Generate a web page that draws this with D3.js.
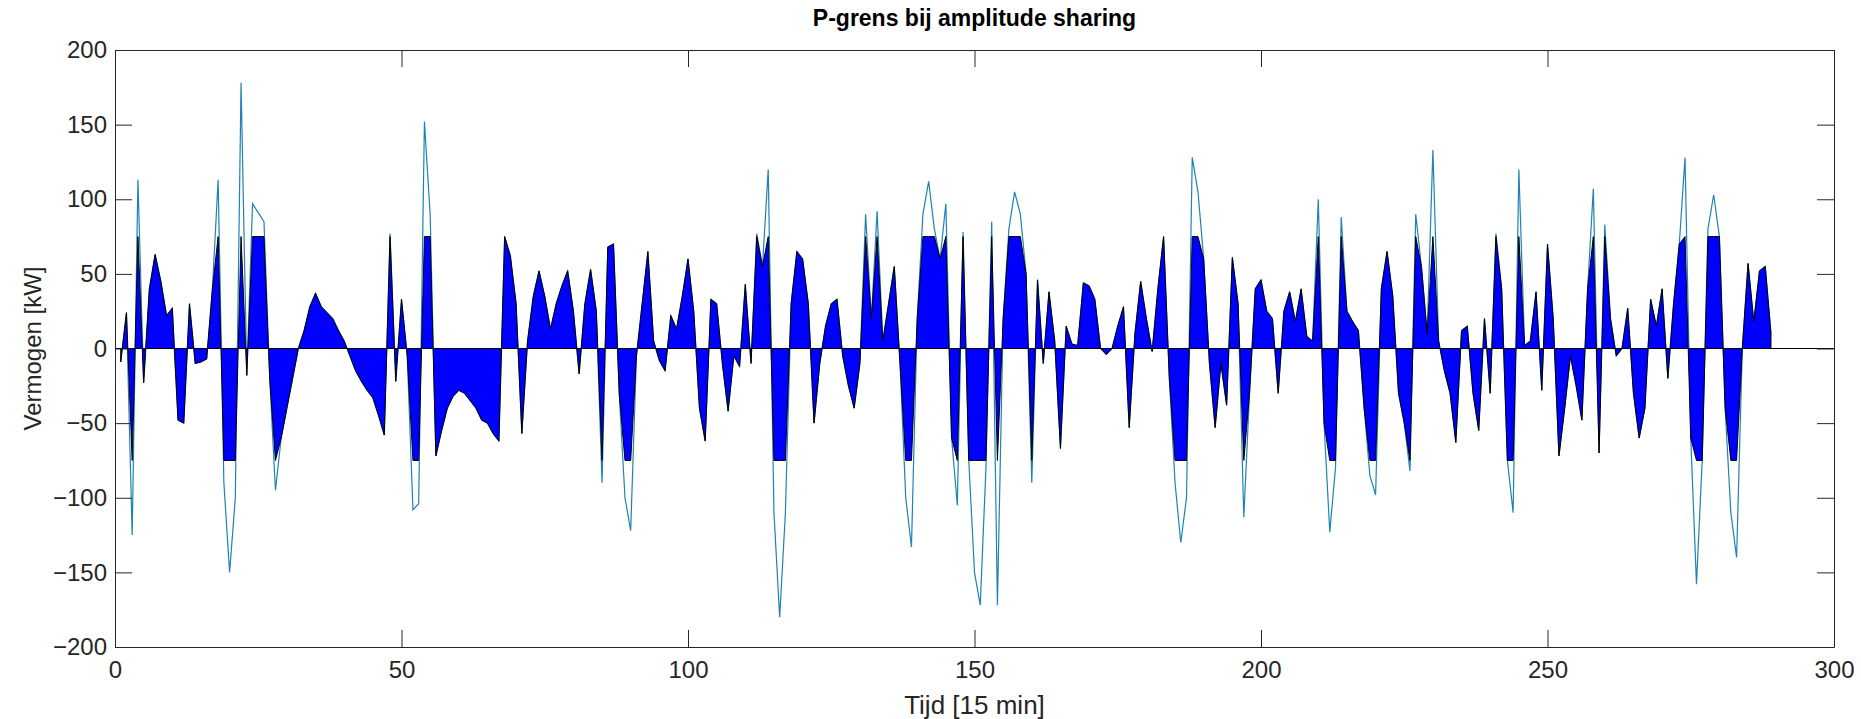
<!DOCTYPE html>
<html>
<head>
<meta charset="utf-8">
<script src="https://cdn.jsdelivr.net/npm/d3@7"></script>
<style>
    body { margin: 0; background: #fff; }
    svg { display: block; font-family: "Liberation Sans", Arial, Helvetica, sans-serif; }
</style>
</head>
<body>
<div id="chart-container"></div>
<script>
let width = 1861;
let height = 719;
let margin = ({top: 50, right: 27, bottom: 72, left: 115});

// vermogen per kwartier (kW), tijdstap 1..289
const power = [
    -9, 24, -125, 113, -23, 40, 63, 45, 22, 27,
    -48, -50, 30, -10, -9, -7, 40, 113, -90, -150,
    -100, 178, -18, 97, 91, 85, -20, -95, -60, -40,
    -20, 0, 12, 28, 37, 28, 24, 20, 12, 5,
    -5, -15, -22, -28, -33, -45, -58, 77, -22, 33,
    -5, -108, -104, 152, 90, -72, -55, -40, -32, -28,
    -30, -35, -40, -48, -50, -57, -62, 75, 62, 30,
    -57, 5, 35, 52, 35, 13, 30, 42, 52, 25,
    -17, 30, 53, 25, -90, 68, 70, -30, -100, -122,
    -5, 30, 65, 5, -8, -15, 22, 13, 35, 60,
    25, -40, -62, 33, 30, -10, -42, -5, -12, 43,
    -10, 77, 55, 120, -110, -180, -110, 30, 65, 60,
    30, -50, -10, 15, 30, 33, -5, -25, -40, -10,
    90, 20, 92, 5, 30, 55, -10, -100, -133, 20,
    90, 112, 80, 60, 97, -60, -105, 78, -75, -150,
    -172, -80, 85, -172, 20, 80, 105, 90, 50, -90,
    46, -10, 38, 5, -67, 15, 3, 2, 44, 42,
    33, 0, -4, 0, 15, 28, -53, 10, 45, 20,
    -2, 40, 75, -20, -90, -130, -100, 128, 105, 60,
    -10, -53, -10, -38, 61, 30, -113, -30, 40, 46,
    25, 20, -30, 25, 38, 18, 40, 8, 5, 100,
    -50, -123, -80, 88, 25, 18, 12, -40, -85, -98,
    40, 65, 35, -30, -50, -82, 90, 55, 10, 133,
    5, -15, -30, -63, 12, 15, -30, -55, 20, -30,
    77, 40, -75, -110, 120, 2, 5, 38, -28, 70,
    20, -72, -40, -5, -25, -48, 40, 107, -70, 83,
    20, -5, 0, 27, -30, -60, -40, 33, 15, 40,
    -20, 30, 70, 128, -60, -158, -75, 80, 103, 75,
    -40, -110, -140, 0, 57, 18, 52, 55, 10
];
const pGrens = 75; // grens bij amplitude sharing

const xTicks = [0, 50, 100, 150, 200, 250, 300];
const yTicks = [-200, -150, -100, -50, 0, 50, 100, 150, 200];

const chartData = power.map((v, i) => ({ t: i + 1, p: v, clipped: Math.max(-pGrens, Math.min(pGrens, v)) }));

const axisColor = "#262626";

const x = d3.scaleLinear()
    .domain([0, 300])
    .range([margin.left, width - margin.right]);

const y = d3.scaleLinear()
    .domain([-200, 200])
    .range([height - margin.bottom, margin.top]);

const svg = d3.select("#chart-container")
    .append("svg")
    .attr("width", width)
    .attr("height", height);

// original signal
svg.append("path")
    .datum(chartData)
    .attr("fill", "none")
    .attr("stroke", "#1f82b4")
    .attr("stroke-width", 1.2)
    .attr("d", d3.line().x(d => x(d.t)).y(d => y(d.p)));

// begrensd vermogen
svg.append("path")
    .datum(chartData)
    .attr("fill", "#0000ff")
    .attr("stroke", "#000")
    .attr("stroke-width", 1)
    .attr("d", d3.area().x(d => x(d.t)).y0(y(0)).y1(d => y(d.clipped)));

// baseline
svg.append("line")
    .attr("x1", x(0)).attr("x2", x(300))
    .attr("y1", y(0)).attr("y2", y(0))
    .attr("stroke", "#000")
    .attr("stroke-width", 1);

const tickLen = 17;

const xAxis = g => g
    .attr("transform", `translate(0,${height - margin.bottom})`)
    .call(d3.axisBottom(x).tickValues(xTicks).tickSizeInner(-tickLen).tickSizeOuter(0).tickPadding(14));

const yAxis = g => g
    .attr("transform", `translate(${margin.left},0)`)
    .call(d3.axisLeft(y).tickValues(yTicks).tickSizeInner(-tickLen).tickSizeOuter(0).tickPadding(8));

const xAxisTop = g => g
    .attr("transform", `translate(0,${margin.top})`)
    .call(d3.axisTop(x).tickValues(xTicks).tickSizeInner(-tickLen).tickSizeOuter(0).tickFormat(""));

const yAxisRight = g => g
    .attr("transform", `translate(${width - margin.right},0)`)
    .call(d3.axisRight(y).tickValues(yTicks).tickSizeInner(-tickLen).tickSizeOuter(0).tickFormat(""));

[xAxis, yAxis, xAxisTop, yAxisRight].forEach(ax => {
    svg.append("g")
        .call(ax)
        .call(g => g.selectAll("path, line").attr("stroke", axisColor))
        .call(g => g.selectAll("text")
            .attr("fill", axisColor)
            .attr("font-size", 24)
            .attr("font-family", "Liberation Sans, Arial, sans-serif"));
});

// title and labels
svg.append("text")
    .attr("x", (x(0) + x(300)) / 2)
    .attr("y", 26)
    .attr("text-anchor", "middle")
    .attr("font-size", 23)
    .attr("font-weight", "bold")
    .attr("fill", "#000")
    .text("P-grens bij amplitude sharing");

svg.append("text")
    .attr("x", (x(0) + x(300)) / 2)
    .attr("y", 714)
    .attr("text-anchor", "middle")
    .attr("font-size", 26)
    .attr("fill", axisColor)
    .text("Tijd [15 min]");

svg.append("text")
    .attr("transform", `translate(41,${(y(-200) + y(200)) / 2}) rotate(-90)`)
    .attr("text-anchor", "middle")
    .attr("font-size", 24)
    .attr("fill", axisColor)
    .text("Vermogen [kW]");
</script>
</body>
</html>
